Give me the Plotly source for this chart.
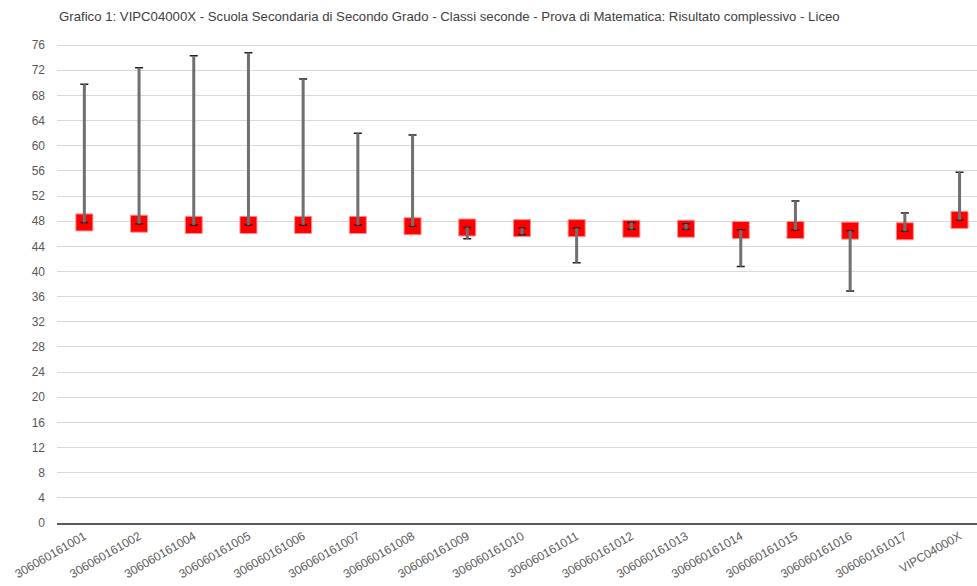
import plotly.graph_objects as go

categories = ['306060161001', '306060161002', '306060161004', '306060161005', '306060161006',
              '306060161007', '306060161008', '306060161009', '306060161010', '306060161011',
              '306060161012', '306060161013', '306060161014', '306060161015', '306060161016',
              '306060161017', 'VIPC04000X']
means = [47.8, 47.6, 47.4, 47.4, 47.4, 47.4, 47.2, 47.0, 46.9, 46.9, 46.8, 46.8, 46.6, 46.6, 46.5, 46.4, 48.2]
upper = [69.8, 72.4, 74.3, 74.8, 70.6, 62.0, 61.7, 47.0, 46.9, 46.9, 47.8, 47.6, 46.6, 51.2, 46.5, 49.3, 55.8]
lower = [47.8, 47.6, 47.4, 47.4, 47.4, 47.4, 47.2, 45.2, 45.9, 41.4, 46.7, 46.7, 40.8, 46.6, 36.9, 46.4, 48.2]
y_ticks = list(range(0, 77, 4))

err_plus = [u - m for u, m in zip(upper, means)]
err_minus = [m - l for m, l in zip(means, lower)]
xs = list(range(len(categories)))

fig = go.Figure()
fig.add_trace(go.Scatter(
    x=xs, y=means, mode='markers',
    marker=dict(symbol='square', size=17, color='#ff0000',
                line=dict(color='rgba(255,140,140,1)', width=1)),
    hoverinfo='skip', showlegend=False))
# black caps
fig.add_trace(go.Scatter(
    x=xs, y=means, mode='markers',
    marker=dict(size=1, color='rgba(0,0,0,0)'),
    error_y=dict(type='data', symmetric=False, array=err_plus, arrayminus=err_minus,
                 color='#1a1a1a', thickness=1.5, width=4),
    hoverinfo='skip', showlegend=False))
# gray stems
fig.add_trace(go.Scatter(
    x=xs, y=means, mode='markers',
    marker=dict(size=1, color='rgba(0,0,0,0)'),
    error_y=dict(type='data', symmetric=False, array=err_plus, arrayminus=err_minus,
                 color='#707070', thickness=3, width=0),
    hoverinfo='skip', showlegend=False))

fig.update_layout(
    width=977, height=586,
    margin=dict(l=57, r=0, t=42, b=63, autoexpand=False),
    paper_bgcolor='white', plot_bgcolor='white',
    font=dict(family='Liberation Sans, Arial, sans-serif', color='#595959'),
    title=dict(text='Grafico 1: VIPC04000X - Scuola Secondaria di Secondo Grado - Classi seconde - Prova di Matematica: Risultato complessivo - Liceo',
               x=59 / 977, xanchor='left', xref='container',
               y=1 - 16 / 586, yanchor='middle', yref='container',
               pad=dict(l=0, r=0, t=0, b=0),
               font=dict(size=13.2, color='#404040')),
    xaxis=dict(range=[-0.5, -0.5 + 920 / 54.7], tickmode='array', tickvals=xs, ticktext=categories,
               tickangle=-30, tickfont=dict(size=12, color='#595959'),
               showgrid=False, showline=True, linecolor='#595959', linewidth=1.5,
               zeroline=False, ticks='', automargin=False),
    yaxis=dict(range=[0, 76.5], tickmode='array', tickvals=y_ticks,
               tickfont=dict(size=12, color='#595959'),
               showgrid=True, gridcolor='#d9d9d9', gridwidth=1,
               zeroline=False, showline=False, ticks='', ticklabelstandoff=11,
               automargin=False),
)

fig.write_html('out.html', config={'displayModeBar': False},
               post_script="document.body.style.margin='0';document.body.style.overflow='hidden';")
